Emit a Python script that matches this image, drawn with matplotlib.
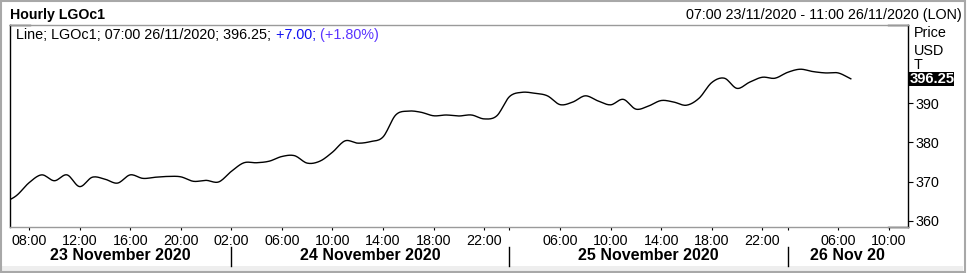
import numpy as np
import matplotlib
matplotlib.use("Agg")
import matplotlib.pyplot as plt
from matplotlib.patches import Rectangle
from matplotlib.lines import Line2D
from matplotlib.transforms import blended_transform_factory

plt.rcParams['font.family'] = ['Liberation Sans', 'DejaVu Sans']

# ---------------- data ----------------
# hourly bars (London time), session bars labelled 02:00 .. 23:00
days = ["23", "24", "25", "26"]
day_hours = {
    "23": list(range(6, 24)),
    "24": list(range(2, 24)),
    "25": list(range(2, 24)),
    "26": list(range(2, 12)),
}
day_names = ["23 November 2020", "24 November 2020", "25 November 2020", "26 Nov 20"]

# LGOc1 hourly close, from 06:00 23/11 to 07:00 26/11
prices = [
    364.6, 366.4, 369.7, 371.7, 370.2, 371.7, 368.7, 371.1, 370.6, 369.6,
    371.7, 370.8, 371.1, 371.3, 371.2, 370.05, 370.3, 369.9,
    372.6, 374.8, 374.8, 375.2, 376.4, 376.6, 374.7, 375.2, 377.5, 380.4,
    379.8, 380.2, 381.4, 387.0, 388.0, 387.7, 386.8, 387.0, 386.75, 387.0,
    386.0, 386.8,
    391.7, 392.8, 392.55, 391.9, 389.65, 390.3, 391.9, 390.6, 389.6, 391.0,
    388.5, 389.3, 390.7, 390.3, 389.5, 391.3, 395.3, 396.4, 393.8, 395.4,
    396.65, 396.4,
    397.9, 398.7, 398.1, 397.75, 397.75, 396.25,
]
last_price = 396.25
change = "+7.00"
change_pct = "(+1.80%)"

tick_bars = [("23", 8), ("23", 12), ("23", 16), ("23", 20),
             ("24", 2), ("24", 6), ("24", 10), ("24", 14), ("24", 18), ("24", 22),
             ("25", 2), ("25", 6), ("25", 10), ("25", 14), ("25", 18), ("25", 22),
             ("26", 2), ("26", 6), ("26", 10)]
tick_labels = ["08:00", "12:00", "16:00", "20:00",
               "02:00", "06:00", "10:00", "14:00", "18:00", "22:00",
               "", "06:00", "10:00", "14:00", "18:00", "22:00",
               "", "06:00", "10:00"]

yticks = [360, 370, 380, 390]

# ---------------- bar index table ----------------
bars = [(d, h) for d in days for h in day_hours[d]]
pos = {b: i for i, b in enumerate(bars)}
start_idx = pos[("23", 7)]
end_idx = pos[("26", 11)]

# ---------------- figure ----------------
W, H = 967, 273
fig = plt.figure(figsize=(W / 100, H / 100), dpi=100)
fig.patch.set_facecolor("white")

def fx(px):
    return px / W

def fy(py):
    return 1 - py / H

ax_l, ax_r, ax_t, ax_b = 9.5, 907.7, 25.0, 227.3
ax = fig.add_axes([fx(ax_l), fy(ax_b), fx(ax_r - ax_l), (ax_b - ax_t) / H])

# smooth line (Catmull-Rom rendering through the hourly closes)
y = np.asarray(prices, dtype=float)
x = np.arange(len(y), dtype=float)
yp = np.concatenate([[2 * y[0] - y[1]], y, [2 * y[-1] - y[-2]]])
xs, ys = [], []
t = np.linspace(0, 1, 12, endpoint=False)
for k in range(len(y) - 1):
    p0, p1, p2, p3 = yp[k], yp[k + 1], yp[k + 2], yp[k + 3]
    seg = 0.5 * ((2 * p1) + (-p0 + p2) * t + (2 * p0 - 5 * p1 + 4 * p2 - p3) * t ** 2
                 + (-p0 + 3 * p1 - 3 * p2 + p3) * t ** 3)
    xs.append(x[k] + t)
    ys.append(seg)
xs.append([x[-1]])
ys.append([y[-1]])
ax.plot(np.concatenate(xs), np.concatenate(ys), color="black", lw=1.0, solid_joinstyle="round")

ax.set_xlim(start_idx - 0.55, end_idx + 0.5)
ax.set_ylim(358.3, 410.0)

# spines
for s in ("left", "right"):
    ax.spines[s].set_color("black")
    ax.spines[s].set_linewidth(1.0)
for s in ("top", "bottom"):
    ax.spines[s].set_color("#9a9a9a")
    ax.spines[s].set_linewidth(1.0)
# black corner segments
ax.add_line(Line2D([0, 0.023], [1, 1], transform=ax.transAxes, color="black", lw=1.0, clip_on=False))
ax.add_line(Line2D([0.978, 1], [1, 1], transform=ax.transAxes, color="black", lw=1.0, clip_on=False))
ax.add_line(Line2D([0.978, 1], [0, 0], transform=ax.transAxes, color="black", lw=1.0, clip_on=False))

# x ticks
ax.set_xticks([pos[b] for b in tick_bars])
ax.set_xticklabels(tick_labels)
ax.tick_params(axis="x", direction="out", length=2.5, width=0.8, pad=2.5,
               labelsize=10.3, color="black", labelcolor="black")

# y ticks on the right
ax.yaxis.tick_right()
ax.set_yticks(yticks)
ax.set_yticklabels([str(v) for v in yticks])
ax.tick_params(axis="y", direction="out", length=3.6, width=0.8, pad=2.0,
               labelsize=10.3, color="black", labelcolor="black")

# day separators and day labels
bt = blended_transform_factory(ax.transData, fig.transFigure)
bounds = [ax.get_xlim()[0]] + [pos[(d, day_hours[d][0])] for d in days[1:]] + [ax.get_xlim()[1]]
for b in bounds[1:-1]:
    fig.add_artist(Line2D([b, b], [fy(247), fy(266)], transform=bt, color="black", lw=1.0))
for k, name in enumerate(day_names):
    cx = 0.5 * (bounds[k] + bounds[k + 1])
    fig.text(cx, fy(256), name, transform=bt, ha="center", va="center",
             fontsize=11.5, fontweight="bold", color="black")

# header
fig.text(fx(10.5), fy(18.5), "Hourly LGOc1", fontsize=10.2, fontweight="bold",
         ha="left", va="baseline", color="black")
fig.text(fx(961.5), fy(18.5), "07:00 23/11/2020 - 11:00 26/11/2020 (LON)", fontsize=10.4,
         ha="right", va="baseline", color="black")

# right-side labels
for txt, py in (("Price", 33), ("USD", 51), ("T", 65)):
    fig.text(fx(914), fy(py), txt, fontsize=10.4, ha="left", va="center", color="black")
by = blended_transform_factory(fig.transFigure, ax.transData)
ylo, yhi = ax.get_ylim()
units_per_px = (yhi - ylo) / (ax_b - ax_t)
box_h = 14.5 * units_per_px
fig.add_artist(Rectangle((fx(908), last_price - box_h / 2), fx(45.5), box_h,
                         transform=by, facecolor="black", edgecolor="none", zorder=5))
fig.text(fx(909.5), last_price, f"{last_price:.2f}", transform=by, fontsize=10.6,
         fontweight="bold", color="white", ha="left", va="center", zorder=6)

# legend line with coloured parts
fig.canvas.draw()
r = fig.canvas.get_renderer()
parts = [(f"Line; LGOc1; 07:00 26/11/2020; {last_price:.2f};", "black"),
         (f" {change};", "#1010f0"),
         (f" {change_pct}", "#5a34ff")]
cur = fx(16.5)
for s, c in parts:
    tt = fig.text(cur, fy(39), s, fontsize=10.4, color=c, ha="left", va="baseline")
    bb = tt.get_window_extent(renderer=r)
    cur += bb.width / fig.bbox.width

# outer panel
fig.add_artist(Rectangle((fx(2), fy(271)), fx(961), 5 / H, transform=fig.transFigure,
                         facecolor="#eeeeee", edgecolor="none", zorder=0))
fig.add_artist(Rectangle((fx(0.5), fy(272)), fx(964), 271.5 / H, transform=fig.transFigure,
                         fill=False, edgecolor="#a8a8a8", lw=1.5))

fig.savefig("out.png", dpi=100)
